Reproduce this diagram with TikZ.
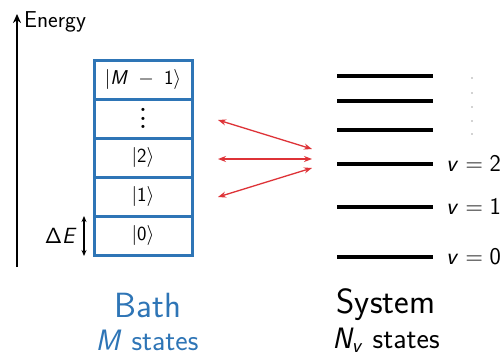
\RequirePackage{fix-cm}
\documentclass[tikz,border=0pt]{standalone}
\usetikzlibrary{arrows.meta}
\DeclareMathAlphabet{\mathsfit}{OT1}{cmss}{m}{sl}
\DeclareMathAlphabet{\mathsfup}{OT1}{cmss}{m}{n}
\definecolor{bathblue}{RGB}{46,117,182}
\definecolor{coupred}{RGB}{222,50,55}
\newcommand{\ket}[1]{\mathopen{|}#1\rangle}
\newcommand{\tallvdots}{\vbox{\baselineskip=8.5pt\lineskiplimit=0pt\hbox{.}\hbox{.}\hbox{.}}}
\tikzset{
  cell/.style={draw=bathblue, line width=3pt, minimum width=98pt, minimum height=39pt, inner sep=0pt, font=\fontsize{20}{22}\selectfont},
  level/.style={draw=none, fill=black, minimum width=96pt, minimum height=3.6pt, inner sep=0pt},
  vlab/.style={anchor=west, inner sep=0pt, font=\fontsize{24}{26}\selectfont\sffamily},
  coup/.style={draw=coupred, line width=1.3pt, {Stealth[length=8pt,width=6pt]}-{Stealth[length=8pt,width=6pt]}},
  dotm/.style={fill=gray!70, draw=none, circle, minimum size=1.8pt, inner sep=0pt},
}
\begin{document}
\begin{tikzpicture}[x=1pt,y=-1pt,font=\sffamily]
\useasboundingbox[fill=white] (0,0) rectangle (501,356);
% energy axis
\coordinate (eb) at (17,267);
\coordinate (et) at (17,14);
\draw[line width=2.6pt, -{Stealth[length=9pt,width=8pt]}] (eb) -- (et);
\node[anchor=west, font=\fontsize{23}{26}\selectfont\sffamily, inner sep=0pt] (en) at (24,22) {Energy};
% bath cells
\node[cell] (b4) at (143,79.5) {$\ket{\mathsfit{M}\;-\;\mathsfup{1}}$};
\node[cell, font=\fontsize{22}{22}\selectfont\bfseries] (b3) at (143,118.5) {\tallvdots};
\node[cell] (b2) at (143,157.5) {$\ket{\mathsfup{2}}$};
\node[cell] (b1) at (143,196.5) {$\ket{\mathsfup{1}}$};
\node[cell] (b0) at (143,235.5) {$\ket{\mathsfup{0}}$};
% Delta E
\coordinate (d1) at (84,216);
\coordinate (d2) at (84,256);
\draw[line width=1.2pt, {Stealth[length=6pt,width=5pt]}-{Stealth[length=6pt,width=5pt]}] (d1) -- (d2);
\node[font=\fontsize{22}{24}\selectfont, inner sep=0pt] (dE) at (61,236) {$\mathsfup{\Delta}\mathsfit{E}$};
% system levels
\node[level] (s5) at (385,76) {};
\node[level] (s4) at (385,101) {};
\node[level] (s3) at (385,130) {};
\node[level] (s2) at (385,164) {};
\node[level] (s1) at (385,207) {};
\node[level] (s0) at (385,257) {};
\node[vlab] (v2) at (446,164) {$\mathsfit{v}=\mathsfup{2}$};
\node[vlab] (v1) at (446,207) {$\mathsfit{v}=\mathsfup{1}$};
\node[vlab] (v0) at (446,257) {$\mathsfit{v}=\mathsfup{0}$};
\foreach \i/\yy in {1/78,2/93,3/107,4/121,5/134} {\node[dotm] (dot\i) at (472,\yy) {};}
% couplings
\coordinate (a4) at (218,120);
\coordinate (a2) at (218,159);
\coordinate (a1) at (218,197);
\coordinate (t4) at (312,149);
\coordinate (t2) at (312,159);
\coordinate (t1) at (312,168);
\draw[coup] (a4) -- (t4);
\draw[coup] (a2) -- (t2);
\draw[coup] (a1) -- (t1);
% titles
\node[text=bathblue, inner sep=0pt, font=\fontsize{35}{36}\selectfont\sffamily] (bath) at (148,305) {Bath};
\node[text=bathblue, inner sep=0pt, font=\fontsize{29.5}{31}\selectfont\sffamily] (bathn) at (147,340) {$\mathsfit{M}$ states};
\node[inner sep=0pt, font=\fontsize{35}{36}\selectfont\sffamily] (sys) at (386,305) {System};
\node[inner sep=0pt, font=\fontsize{29.5}{31}\selectfont\sffamily] (sysn) at (386,340) {$\mathsfit{N}_{\mathsfit{v}}$ states};
\end{tikzpicture}
\end{document}
